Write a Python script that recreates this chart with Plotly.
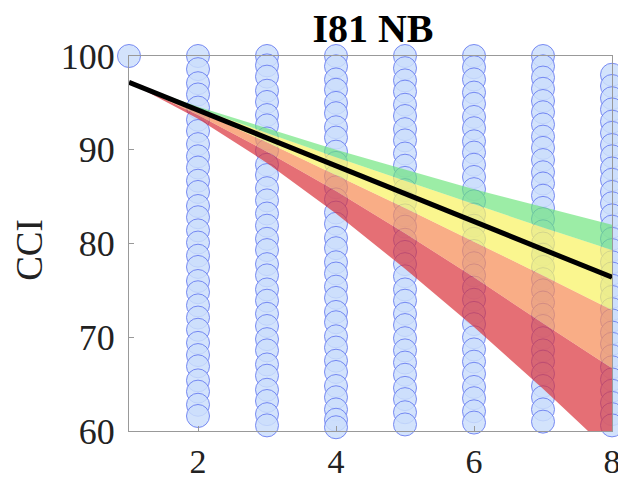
import plotly.graph_objects as go

# ---------------- data ----------------
years = [1, 2, 3, 4, 5, 6, 7, 8]

cci_obs = {
    1: [100],
    2: [100, 98.6, 97.1, 95.9, 94.5, 93.2, 92.0, 90.6, 89.3, 88.1, 86.7, 85.5, 84.0, 82.8,
        81.4, 80.1, 78.7, 77.5, 76.0, 74.8, 73.4, 72.1, 70.8, 69.4, 68.1, 66.9, 65.4,
        64.2, 62.8, 61.6],
    3: [100, 99.0, 97.8, 96.3, 95.1, 93.7, 92.6, 91.2, 89.9, 88.4, 87.3, 85.9, 84.6, 83.2,
        81.9, 80.5, 79.3, 77.8, 76.6, 75.1, 73.9, 72.5, 71.2, 69.8, 68.6, 67.1, 65.9,
        64.4, 63.2, 61.8, 60.6],
    4: [100, 98.9, 97.5, 96.4, 95.0, 93.9, 92.4, 91.3, 89.8, 88.6, 87.2, 86.0, 84.7, 83.3,
        82.1, 80.6, 79.5, 78.0, 76.8, 75.4, 74.2, 72.7, 71.6, 70.1, 68.9, 67.5, 66.3,
        64.8, 63.6, 62.3, 61.2, 60.4],
    5: [100, 98.7, 97.4, 96.2, 94.8, 93.6, 92.2, 91.0, 89.6, 88.3, 87.0, 85.7, 84.4, 83.0,
        81.8, 80.4, 79.1, 77.8, 76.5, 75.1, 73.9, 72.5, 71.3, 69.9, 68.6, 67.3, 66.0,
        64.6, 63.4, 62.0, 60.7],
    6: [100, 98.8, 97.5, 96.1, 94.9, 93.5, 92.3, 90.9, 89.7, 88.4, 87.1, 85.8, 84.5, 83.1,
        81.9, 80.5, 79.2, 77.9, 76.6, 75.3, 74.0, 72.6, 71.4, 70.0, 68.7, 67.4, 66.1,
        64.7, 63.5, 62.1, 60.9],
    7: [100, 98.9, 97.7, 96.5, 95.2, 94.0, 92.7, 91.4, 90.2, 88.9, 87.6, 86.4, 85.1, 83.8,
        82.6, 81.3, 80.0, 78.8, 77.5, 76.2, 75.0, 73.7, 72.4, 71.2, 69.9, 68.6, 67.4,
        66.1, 64.8, 63.6, 62.3, 61.0],
    8: [98.0, 96.8, 95.5, 94.3, 93.0, 91.8, 90.5, 89.3, 88.0, 86.8, 85.5, 84.3, 83.0,
        81.8, 80.5, 79.3, 78.0, 76.8, 75.5, 74.3, 73.0, 71.8, 70.5, 69.3, 68.0, 66.8,
        65.5, 64.3, 63.0, 61.8, 60.6],
}

mean_line = [97.2, 94.23, 91.26, 88.29, 85.31, 82.34, 79.37, 76.4]

band_red_low = [97.2, 93.3, 88.6, 83.2, 77.3, 71.1, 64.5, 57.6]
band_orange_low = [97.2, 93.7, 89.8, 85.6, 81.1, 76.4, 71.5, 66.7]
band_yellow_low = [97.2, 94.1, 90.8, 87.3, 83.8, 80.2, 76.6, 72.9]
band_green_low = [97.2, 94.4, 91.8, 89.2, 86.7, 84.2, 81.7, 79.3]
band_green_high = [97.2, 94.6, 92.3, 90.0, 87.9, 85.8, 83.9, 82.0]

x_ticks = [2, 4, 6, 8]
y_ticks = [60, 70, 80, 90, 100]

# ---------------- figure ----------------
fig = go.Figure()

xs, ys = [], []
for yr, vals in cci_obs.items():
    xs += [yr] * len(vals)
    ys += vals

fig.add_trace(go.Scatter(
    x=xs, y=ys, mode="markers", cliponaxis=False, showlegend=False,
    marker=dict(size=23, color="rgba(203,222,252,0.85)",
                line=dict(color="rgba(100,120,240,0.85)", width=1)),
))

bands = [
    (band_red_low, None),
    (band_orange_low, "rgba(218,50,58,0.70)"),
    (band_yellow_low, "rgba(246,142,88,0.72)"),
    (band_green_low, "rgba(248,242,100,0.72)"),
    (band_green_high, "rgba(105,228,120,0.66)"),
]
for vals, col in bands:
    fig.add_trace(go.Scatter(
        x=years, y=vals, mode="lines", line=dict(width=0), showlegend=False,
        fill="tonexty" if col else None, fillcolor=col, cliponaxis=True,
    ))

fig.add_trace(go.Scatter(
    x=years, y=mean_line, mode="lines", showlegend=False,
    line=dict(color="black", width=5),
))

serif = "Liberation Serif, Times New Roman, serif"
fig.update_layout(
    width=618, height=473,
    margin=dict(l=121, r=14, t=48, b=50),
    paper_bgcolor="white", plot_bgcolor="white",
    title=dict(text="<b>I81 NB</b>", x=0.5906, xanchor="center", y=0.958, yanchor="middle",
               font=dict(family=serif, size=40, color="black")),
    font=dict(family=serif, color="#222"),
    annotations=[dict(text="CCI", textangle=-90, xref="paper", yref="paper",
                      x=-0.205, y=0.483, xanchor="center", yanchor="middle",
                      showarrow=False, font=dict(family=serif, size=37, color="#222"))],
)
fig.update_xaxes(range=[1, 8], tickvals=x_ticks, ticks="inside", ticklen=5,
                 tickcolor="#999", showline=True, linecolor="#999", mirror=True,
                 showgrid=False, zeroline=False, automargin=False,
                 tickfont=dict(size=34, family=serif, color="#222"))
fig.update_yaxes(range=[60, 100], tickvals=y_ticks, ticks="inside", ticklen=5,
                 tickcolor="#999", showline=True, linecolor="#999", mirror=True,
                 showgrid=False, zeroline=False, automargin=False, ticklabelstandoff=6,
                 tickfont=dict(size=36, family=serif, color="#222"))

fig.write_html("out.html")
